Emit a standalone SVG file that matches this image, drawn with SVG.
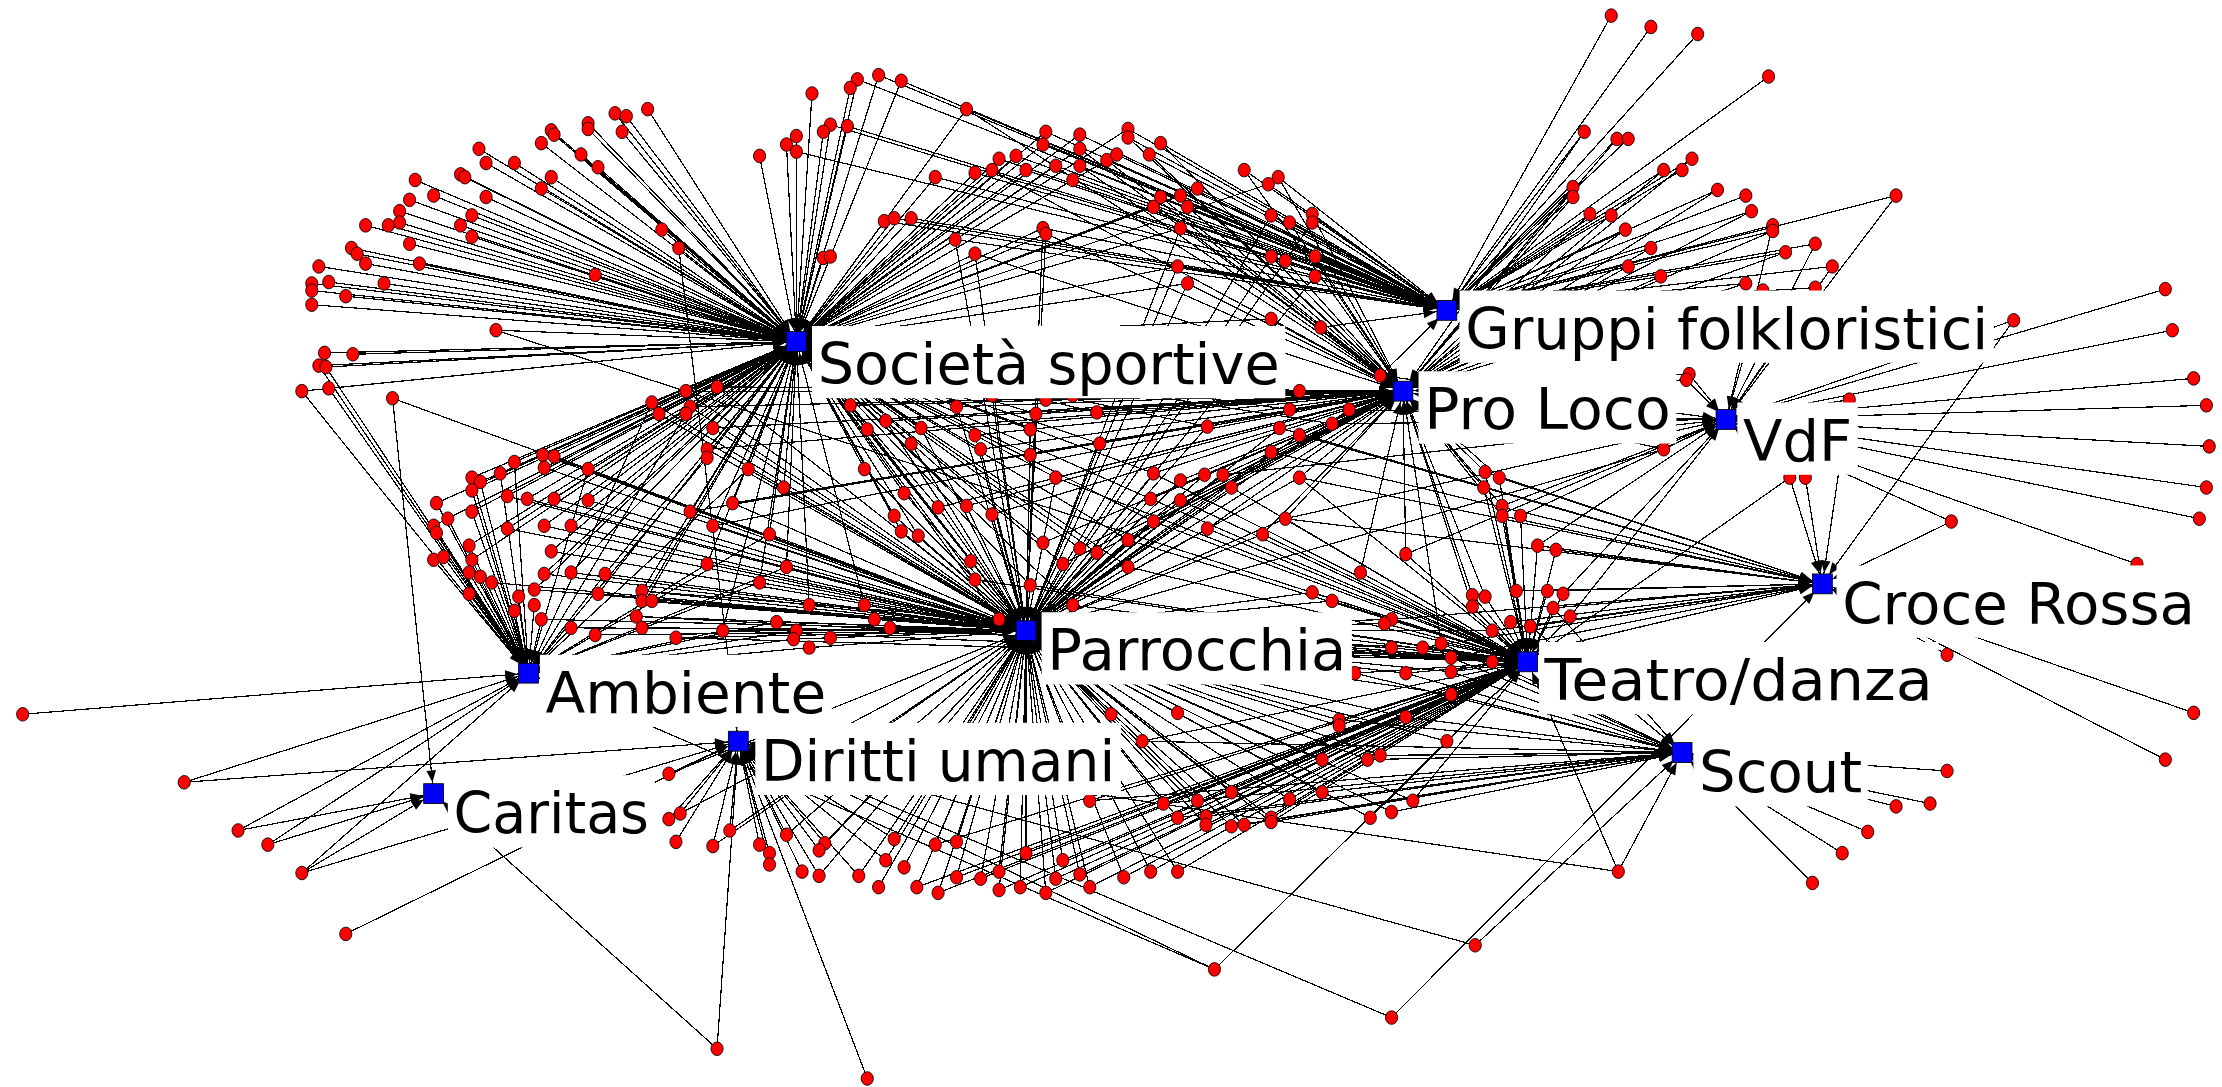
<svg xmlns="http://www.w3.org/2000/svg" width="2222" height="1087" viewBox="0 0 2222 1087">
<defs>
<marker id="ah" markerUnits="userSpaceOnUse" orient="auto-start-reverse" refX="8" refY="0" markerWidth="10" markerHeight="10" overflow="visible"><path d="M0 0L-8.5-3.4L-8.5 3.4z" fill="#000"/></marker>
<ellipse id="r" rx="4.3" ry="4.8" fill="#f00" stroke="#000" stroke-width=".6"/>
</defs>
<style>
#edges{shape-rendering:crispEdges}
#edges path{fill:none;stroke:#000;stroke-width:.85;stroke-linejoin:round;marker-end:url(#ah)}
#edges .w{marker-start:url(#ah)}
.sq{fill:#00f;stroke:#000;stroke-width:.6}
.lb{fill:#fff}
.hub text{font-family:"DejaVu Sans",Verdana,sans-serif;font-size:40px;fill:#000}
</style>
<rect width="2222" height="1087" fill="#fff"/>
<g transform="scale(1.41709 1.41721)">
<g id="edges">
<path d="M457 77L562 241"/><path d="M434 80L562 241"/><path d="M442 82L562 241"/><path d="M415 87L562 241"/><path d="M415 91L562 241"/><path d="M439 93L562 241"/><path d="M389 92L562 241"/><path d="M391 95L562 241"/><path d="M382 101L562 241"/><path d="M338 105L562 241"/><path d="M410 109L562 241"/><path d="M422 118L562 241"/><path d="M343 115L562 241"/><path d="M363 115L562 241"/><path d="M325 123L562 241"/><path d="M328 125L562 241"/><path d="M389 125L562 241"/><path d="M382 133L562 241"/><path d="M293 127L562 241"/><path d="M306 138L562 241"/><path d="M343 139L562 241"/><path d="M289 141L562 241"/><path d="M282 149L562 241"/><path d="M282 157L562 241"/><path d="M333 152L562 241"/><path d="M258 159L562 241"/><path d="M274 159L562 241"/><path d="M325 159L562 241"/><path d="M333 167L562 241"/><path d="M289 172L562 241"/><path d="M248 175L562 241"/><path d="M252 179L562 241"/><path d="M467 162L562 241"/><path class="w" d="M562 241L479 175L521 523"/><path d="M225 188L562 241"/><path d="M258 186L562 241"/><path d="M296 186L562 241"/><path d="M420 194L562 241"/><path d="M220 200L562 241"/><path d="M232 199L562 241"/><path d="M271 200L562 241"/><path d="M220 205L562 241"/><path d="M244 209L562 241"/><path d="M220 215L562 241"/><path class="w" d="M562 241L350 233L1078 467"/><path d="M229 249L562 241"/><path d="M249 250L562 241"/>
<path class="w" d="M562 241L620 53L1021 219"/><path class="w" d="M562 241L605 56L1021 219"/><path d="M600 62L562 241"/><path class="w" d="M562 241L636 57L1021 219"/><path d="M573 66L562 241"/><path class="w" d="M562 241L682 77L1021 219"/><path d="M682 77L990 276"/><path class="w" d="M562 241L586 88L1021 219"/><path d="M581 93L562 241"/><path class="w" d="M562 241L598 89L1021 219"/><path d="M562 96L562 241"/><path d="M555 102L562 241"/><path class="w" d="M562 241L562 107L1021 219"/><path d="M536 110L562 241"/><path class="w" d="M562 241L738 93L1021 219"/><path class="w" d="M562 241L762 95L1021 219"/><path class="w" d="M562 241L796 91L1021 219"/><path class="w" d="M1021 219L796 97L990 276"/><path class="w" d="M562 241L736 102L1021 219"/><path class="w" d="M562 241L762 105L990 276"/><path class="w" d="M1021 219L819 101L990 276"/><path class="w" d="M562 241L705 112L1021 219"/><path class="w" d="M562 241L717 110L1021 219"/><path class="w" d="M1021 219L781 113L990 276"/><path class="w" d="M562 241L788 109L1021 219"/><path class="w" d="M1021 219L811 109L990 276"/><path class="w" d="M562 241L688 122L1021 219"/><path class="w" d="M562 241L700 120L990 276"/><path class="w" d="M562 241L724 120L1021 219"/><path class="w" d="M562 241L745 117L1021 219"/><path class="w" d="M1021 219L762 117L990 276"/><path class="w" d="M562 241L757 127L1021 219"/><path class="w" d="M562 241L660 125L1021 219"/><path class="w" d="M1021 219L878 120L990 276"/><path class="w" d="M1021 219L902 125L990 276"/><path class="w" d="M562 241L895 130L1021 219"/><path class="w" d="M562 241L845 133L1021 219"/><path class="w" d="M1021 219L819 139L990 276"/><path class="w" d="M562 241L833 138L1021 219"/><path class="w" d="M562 241L814 146L990 276"/><path class="w" d="M1021 219L838 146L990 276"/><path class="w" d="M1021 219L897 152L724 445"/><path class="w" d="M1021 219L910 157L990 276"/><path class="w" d="M1021 219L926 151L990 276"/><path class="w" d="M1021 219L926 157L724 445"/><path class="w" d="M562 241L833 161L1021 219"/><path class="w" d="M562 241L624 156L1021 219"/><path class="w" d="M562 241L631 154L1021 219"/><path class="w" d="M562 241L643 154L1021 219"/><path class="w" d="M562 241L736 161L1021 219"/><path class="w" d="M562 241L738 165L990 276"/><path class="w" d="M562 241L674 169L1021 219"/><path class="w" d="M562 241L688 179L990 276"/><path d="M581 182L562 241"/><path d="M586 181L562 241"/><path class="w" d="M1021 219L897 181L724 445"/><path class="w" d="M1021 219L907 184L990 276"/><path class="w" d="M1021 219L928 181L990 276"/><path class="w" d="M562 241L831 188L1021 219"/><path class="w" d="M562 241L838 200L990 276"/><path class="w" d="M1021 219L928 195L724 445"/><path class="w" d="M562 241L897 225L990 276"/><path class="w" d="M1021 219L932 231L990 276"/>
<path d="M1137 11L1021 219"/><path d="M1165 19L1021 219"/><path d="M1198 24L1021 219"/><path d="M1248 54L1021 219"/><path class="w" d="M1021 219L1118 93L990 276"/><path class="w" d="M1021 219L1141 98L990 276"/><path d="M1149 98L1021 219"/><path class="w" d="M1021 219L1194 112L990 276"/><path class="w" d="M1021 219L1174 120L990 276"/><path d="M1187 120L1021 219"/><path class="w" d="M1021 219L1110 132L990 276"/><path class="w" d="M1021 219L1110 139L990 276"/><path class="w" d="M1021 219L1212 134L990 276"/><path d="M1232 138L1021 219"/><path class="w" d="M1021 219L1338 138L1218 296"/><path class="w" d="M1021 219L1236 149L990 276"/><path class="w" d="M1021 219L1122 151L990 276"/><path d="M1137 152L1021 219"/><path class="w" d="M1021 219L1147 162L990 276"/><path class="w" d="M1021 219L1251 159L1218 296"/><path class="w" d="M1021 219L1251 163L990 276"/><path class="w" d="M1021 219L1281 172L1218 296"/><path class="w" d="M1021 219L1260 178L990 276"/><path class="w" d="M1021 219L1165 175L990 276"/><path class="w" d="M1021 219L1293 188L1218 296"/><path class="w" d="M1021 219L1149 188L990 276"/><path class="w" d="M1021 219L1172 195L990 276"/><path class="w" d="M1021 219L1232 200L990 276"/><path class="w" d="M1021 219L1244 205L1218 296"/><path class="w" d="M1021 219L1281 203L1218 296"/><path class="w" d="M1218 296L1421 226L1286 412"/><path d="M1528 204L1218 296"/><path d="M1533 233L1218 296"/>
<path class="w" d="M562 241L225 258L373 475"/><path class="w" d="M562 241L230 259L373 475"/><path class="w" d="M562 241L213 276L373 475"/><path class="w" d="M562 241L232 274L373 475"/><path class="w" d="M306 560L277 281L724 445"/><path class="w" d="M562 241L484 276L724 445"/><path class="w" d="M562 241L506 273L724 445"/><path class="w" d="M562 241L460 284L724 445"/><path d="M460 284L373 475"/><path class="w" d="M562 241L465 292L724 445"/><path class="w" d="M562 241L487 287L724 445"/><path class="w" d="M562 241L484 292L373 475"/><path class="w" d="M562 241L503 302L724 445"/><path class="w" d="M562 241L499 317L724 445"/><path class="w" d="M562 241L499 323L373 475"/><path class="w" d="M562 241L383 321L724 445"/><path class="w" d="M562 241L391 322L724 445"/><path class="w" d="M562 241L363 326L373 475"/><path class="w" d="M562 241L384 330L724 445"/><path class="w" d="M562 241L415 331L724 445"/><path d="M415 331L373 475"/><path class="w" d="M562 241L353 334L373 475"/><path class="w" d="M562 241L333 337L373 475"/><path class="w" d="M562 241L339 340L373 475"/><path class="w" d="M562 241L333 346L373 475"/><path class="w" d="M562 241L358 350L724 445"/><path class="w" d="M562 241L372 352L724 445"/><path class="w" d="M562 241L391 352L724 445"/><path class="w" d="M562 241L415 353L724 445"/><path class="w" d="M562 241L308 355L373 475"/><path class="w" d="M562 241L333 361L373 475"/><path class="w" d="M562 241L316 366L373 475"/><path class="w" d="M562 241L306 371L373 475"/><path d="M308 376L373 475"/><path class="w" d="M562 241L358 373L724 445"/><path class="w" d="M562 241L384 371L724 445"/><path class="w" d="M562 241L403 371L724 445"/><path class="w" d="M562 241L487 361L724 445"/><path class="w" d="M562 241L503 371L724 445"/><path class="w" d="M562 241L517 355L724 445"/><path class="w" d="M562 241L331 385L373 475"/><path class="w" d="M562 241L389 389L724 445"/><path d="M306 395L373 475"/><path d="M313 393L373 475"/><path class="w" d="M562 241L333 395L373 475"/><path class="w" d="M562 241L499 398L724 445"/><path d="M499 398L373 475"/><path d="M331 404L373 475"/><path d="M339 407L373 475"/><path class="w" d="M373 475L347 411L724 445"/><path class="w" d="M562 241L384 405L724 445"/><path class="w" d="M562 241L403 404L724 445"/><path class="w" d="M562 241L427 405L724 445"/><path d="M427 405L373 475"/><path d="M331 419L373 475"/><path class="w" d="M562 241L377 416L724 445"/><path d="M366 421L373 475"/><path class="w" d="M562 241L422 419L724 445"/><path class="w" d="M562 241L453 417L724 445"/><path class="w" d="M562 241L453 424L724 445"/><path d="M460 424L724 445"/><path d="M377 427L373 475"/><path d="M363 431L373 475"/><path class="w" d="M373 475L382 437L724 445"/><path class="w" d="M562 241L449 435L724 445"/><path d="M453 443L724 445"/><path class="w" d="M373 475L403 443L724 445"/><path d="M420 448L724 445"/><path d="M477 450L724 445"/><path class="w" d="M562 241L510 445L724 445"/><path d="M510 445L373 475"/><path d="M16 504L373 475"/>
<path class="w" d="M562 241L600 286L724 445"/><path class="w" d="M562 241L675 287L724 445"/><path class="w" d="M562 241L738 282L990 276"/><path class="w" d="M562 241L757 279L990 276"/><path class="w" d="M562 241L700 279L724 445"/><path class="w" d="M562 241L731 292L724 445"/><path class="w" d="M562 241L774 291L990 276"/><path class="w" d="M562 241L625 297L724 445"/><path class="w" d="M562 241L612 303L724 445"/><path class="w" d="M562 241L650 302L724 445"/><path class="w" d="M562 241L688 307L724 445"/><path class="w" d="M562 241L727 303L724 445"/><path class="w" d="M562 241L643 313L724 445"/><path class="w" d="M562 241L692 317L724 445"/><path class="w" d="M562 241L727 321L724 445"/><path class="w" d="M562 241L776 313L724 445"/><path d="M776 313L990 276"/><path class="w" d="M562 241L852 301L990 276"/><path d="M852 301L724 445"/><path class="w" d="M562 241L917 276L990 276"/><path class="w" d="M562 241L910 289L990 276"/><path class="w" d="M990 276L903 302L724 445"/><path class="w" d="M990 276L917 307L724 445"/><path class="w" d="M990 276L952 289L724 445"/><path d="M952 289L1218 296"/><path class="w" d="M562 241L940 299L990 276"/><path d="M940 299L1218 296"/><path class="w" d="M1021 219L974 265L990 276"/><path d="M974 265L1218 296"/><path class="w" d="M990 276L897 319L724 445"/><path class="w" d="M562 241L528 331L724 445"/><path d="M528 331L373 475"/><path class="w" d="M562 241L610 331L724 445"/><path class="w" d="M562 241L553 344L724 445"/><path class="w" d="M562 241L745 337L724 445"/><path class="w" d="M562 241L814 334L724 445"/><path class="w" d="M990 276L833 339L724 445"/><path class="w" d="M990 276L850 335L724 445"/><path class="w" d="M990 276L863 335L724 445"/><path d="M863 335L1218 296"/><path class="w" d="M990 276L869 344L724 445"/><path class="w" d="M990 276L917 337L724 445"/><path class="w" d="M562 241L638 348L724 445"/><path class="w" d="M562 241L662 358L724 445"/><path class="w" d="M562 241L682 357L724 445"/><path class="w" d="M562 241L700 363L724 445"/><path class="w" d="M562 241L631 364L724 445"/><path class="w" d="M562 241L812 352L724 445"/><path class="w" d="M990 276L833 353L724 445"/><path class="w" d="M562 241L814 368L724 445"/><path class="w" d="M990 276L907 366L724 445"/><path d="M907 366L1218 296"/><path class="w" d="M990 276L852 373L724 445"/><path class="w" d="M990 276L891 377L724 445"/><path class="w" d="M562 241L543 377L724 445"/><path d="M543 377L373 475"/><path class="w" d="M562 241L636 375L724 445"/><path class="w" d="M562 241L648 378L724 445"/><path class="w" d="M562 241L736 383L724 445"/><path class="w" d="M562 241L796 381L724 445"/><path class="w" d="M562 241L762 387L724 445"/><path class="w" d="M562 241L774 390L724 445"/><path class="w" d="M562 241L685 396L724 445"/><path class="w" d="M562 241L750 398L724 445"/><path class="w" d="M562 241L796 400L724 445"/><path class="w" d="M990 276L992 391L1078 467"/><path d="M992 391L1218 296"/><path class="w" d="M990 276L960 404L1078 467"/><path class="w" d="M562 241L555 400L724 445"/><path d="M555 400L373 475"/><path class="w" d="M562 241L536 411L724 445"/><path d="M536 411L373 475"/><path class="w" d="M562 241L688 409L724 445"/><path class="w" d="M562 241L727 413L724 445"/><path class="w" d="M724 445L926 418L1078 467"/><path class="w" d="M724 445L940 424L1078 467"/><path class="w" d="M562 241L571 427L724 445"/><path class="w" d="M562 241L610 427L724 445"/><path class="w" d="M562 241L757 427L724 445"/><path class="w" d="M373 475L548 439L724 445"/><path class="w" d="M373 475L562 445L724 445"/><path class="w" d="M373 475L560 451L724 445"/><path d="M586 450L724 445"/><path class="w" d="M373 475L571 457L724 445"/><path d="M617 437L724 445"/><path d="M628 443L724 445"/><path class="w" d="M562 241L705 437L724 445"/><path class="w" d="M724 445L982 437L1078 467"/><path d="M982 437L1286 412"/><path class="w" d="M724 445L977 440L1078 467"/><path class="w" d="M724 445L982 457L1078 467"/><path class="w" d="M724 445L1004 457L1078 467"/><path d="M1004 457L1286 412"/><path class="w" d="M990 276L1017 454L1078 467"/><path class="w" d="M724 445L1024 464L1078 467"/><path class="w" d="M724 445L1024 474L1078 467"/><path class="w" d="M724 445L992 475L1078 467"/><path class="w" d="M724 445L956 475L1078 467"/><path d="M956 475L1187 531"/><path class="w" d="M724 445L1024 490L1078 467"/><path d="M1024 490L1187 531"/><path d="M784 504L724 445"/><path d="M831 503L724 445"/><path class="w" d="M724 445L945 508L1078 467"/><path d="M945 508L1187 531"/><path class="w" d="M724 445L992 506L1078 467"/><path d="M992 506L1187 531"/><path class="w" d="M990 276L1039 420L1078 467"/><path class="w" d="M990 276L1039 428L1078 467"/>
<path class="w" d="M990 276L1192 264L1218 296"/><path class="w" d="M990 276L1190 268L1218 296"/><path class="w" d="M1218 296L1305 282L1286 412"/><path d="M1548 267L1218 296"/><path d="M1557 286L1218 296"/><path d="M1559 315L1218 296"/><path d="M1557 344L1218 296"/><path d="M1552 366L1218 296"/><path class="w" d="M990 276L1174 317L1218 296"/><path d="M1174 317L724 445"/><path class="w" d="M1218 296L1263 337L1286 412"/><path d="M1263 337L1078 467"/><path class="w" d="M1218 296L1274 337L1286 412"/><path class="w" d="M1218 296L1377 368L1286 412"/><path d="M1508 398L1218 296"/><path class="w" d="M990 276L1048 333L1078 467"/><path d="M1048 333L1286 412"/><path class="w" d="M990 276L1058 337L1078 467"/><path class="w" d="M990 276L1047 344L1078 467"/><path class="w" d="M990 276L1060 357L1078 467"/><path d="M1060 357L1218 296"/><path class="w" d="M990 276L1060 364L1078 467"/><path class="w" d="M1218 296L1073 364L1078 467"/><path class="w" d="M1218 296L1085 385L1078 467"/><path d="M1085 385L1286 412"/><path class="w" d="M1286 412L1098 388L1078 467"/><path class="w" d="M990 276L1048 421L1078 467"/><path class="w" d="M1286 412L1070 417L1078 467"/><path class="w" d="M1286 412L1092 417L1078 467"/><path class="w" d="M1218 296L1103 419L1078 467"/><path class="w" d="M1286 412L1096 429L1078 467"/><path class="w" d="M1218 296L1108 435L1078 467"/><path class="w" d="M724 445L1053 445L1078 467"/><path class="w" d="M1286 412L1066 439L1078 467"/><path class="w" d="M1286 412L1080 442L1078 467"/><path class="w" d="M724 445L1053 467L1078 467"/><path d="M1374 462L1286 412"/><path d="M1548 503L1286 412"/>
<path class="w" d="M373 475L130 552L521 523"/><path class="w" d="M373 475L168 586L306 560"/><path class="w" d="M373 475L189 596L306 560"/><path class="w" d="M373 475L213 616L306 560"/><path d="M213 616L521 523"/><path d="M244 659L521 523"/><path class="w" d="M306 560L506 740L521 523"/><path class="w" d="M724 445L472 546L521 523"/><path d="M472 578L521 523"/><path class="w" d="M724 445L480 574L521 523"/><path d="M477 594L521 523"/><path class="w" d="M724 445L503 597L521 523"/><path class="w" d="M724 445L515 586L521 523"/>
<path d="M806 523L724 445"/><path class="w" d="M724 445L945 512L1078 467"/><path class="w" d="M724 445L1021 523L1078 467"/><path class="w" d="M724 445L933 536L1078 467"/><path class="w" d="M724 445L965 536L1187 531"/><path class="w" d="M724 445L974 533L1187 531"/><path d="M769 565L724 445"/><path d="M821 567L724 445"/><path class="w" d="M724 445L845 565L1078 467"/><path d="M869 559L724 445"/><path class="w" d="M724 445L910 564L1078 467"/><path class="w" d="M724 445L933 559L1187 531"/><path class="w" d="M724 445L997 565L1078 467"/><path d="M831 577L724 445"/><path d="M851 576L724 445"/><path class="w" d="M724 445L851 582L1078 467"/><path d="M869 583L724 445"/><path class="w" d="M724 445L878 582L1187 531"/><path class="w" d="M724 445L897 577L1078 467"/><path d="M897 580L724 445"/><path class="w" d="M724 445L967 577L1078 467"/><path class="w" d="M724 445L982 573L1187 531"/><path class="w" d="M521 523L555 589L724 445"/><path d="M536 596L521 523"/><path d="M543 602L521 523"/><path d="M543 610L521 523"/><path class="w" d="M521 523L582 595L724 445"/><path class="w" d="M521 523L578 600L724 445"/><path d="M566 615L521 523"/><path class="w" d="M521 523L578 618L724 445"/><path class="w" d="M521 523L631 592L724 445"/><path d="M660 596L724 445"/><path d="M675 594L724 445"/><path d="M724 602L724 445"/><path class="w" d="M521 523L625 607L724 445"/><path d="M638 612L724 445"/><path class="w" d="M521 523L606 618L724 445"/><path d="M620 626L724 445"/><path d="M647 626L724 445"/><path d="M662 630L724 445"/><path d="M675 619L724 445"/><path d="M692 620L724 445"/><path d="M705 615L724 445"/><path d="M705 628L724 445"/><path d="M720 626L724 445"/><path d="M738 630L724 445"/><path d="M745 620L724 445"/><path d="M750 607L724 445"/><path d="M762 617L724 445"/><path d="M769 626L724 445"/><path d="M793 619L724 445"/><path d="M812 615L724 445"/><path d="M831 615L724 445"/><path class="w" d="M521 523L857 684L1078 467"/><path d="M857 684L373 475"/><path class="w" d="M521 523L982 718L1286 412"/><path d="M612 761L521 523"/><path class="w" d="M521 523L1041 667L1187 531"/>
<path class="w" d="M521 523L1142 615L1078 467"/><path d="M1142 615L1187 531"/><path d="M1279 623L1187 531"/><path d="M1300 602L1187 531"/><path d="M1318 587L1187 531"/><path d="M1338 569L1187 531"/><path d="M1362 567L1187 531"/><path d="M1374 544L1187 531"/><path d="M1528 536L1286 412"/>
<path d="M769 565L1078 467"/><path d="M821 567L1078 467"/><path d="M831 577L1078 467"/><path d="M851 576L1078 467"/><path d="M869 559L1078 467"/><path d="M869 583L1078 467"/><path d="M897 580L1078 467"/><path d="M806 523L1078 467"/><path d="M831 615L1078 467"/><path d="M812 615L1078 467"/><path d="M793 619L1078 467"/><path d="M769 626L1078 467"/><path d="M762 617L1078 467"/><path d="M750 607L1078 467"/><path d="M745 620L1078 467"/><path d="M738 630L1078 467"/><path d="M720 626L1078 467"/><path d="M705 628L1078 467"/><path d="M692 620L1078 467"/><path d="M675 619L1078 467"/><path d="M724 602L1078 467"/><path d="M660 596L1078 467"/><path d="M662 630L1078 467"/><path d="M647 626L1078 467"/>
<path d="M831 577L1187 531"/><path d="M851 576L1187 531"/><path d="M869 583L1187 531"/><path d="M897 580L1187 531"/><path d="M821 567L1187 531"/><path d="M769 565L1187 531"/><path d="M806 523L1187 531"/>
<path d="M600 286L990 276"/><path d="M675 287L990 276"/><path d="M700 279L990 276"/><path d="M731 292L990 276"/><path d="M625 297L990 276"/><path d="M650 302L990 276"/><path d="M688 307L990 276"/><path d="M727 303L990 276"/><path d="M692 317L990 276"/><path d="M727 321L990 276"/><path d="M745 337L990 276"/><path d="M814 334L990 276"/><path d="M812 352L990 276"/><path d="M814 368L990 276"/><path d="M796 381L990 276"/><path d="M796 400L990 276"/><path d="M774 390L990 276"/><path d="M750 398L990 276"/><path d="M736 383L990 276"/><path d="M762 387L990 276"/><path d="M682 357L990 276"/><path d="M700 363L990 276"/><path d="M662 358L990 276"/>
<path d="M745 337L1078 467"/><path d="M814 334L1078 467"/><path d="M812 352L1078 467"/><path d="M814 368L1078 467"/><path d="M796 381L1078 467"/><path d="M796 400L1078 467"/><path d="M757 427L1078 467"/><path d="M727 413L1078 467"/><path d="M688 409L1078 467"/><path d="M852 373L1078 467"/><path d="M891 377L1078 467"/><path d="M907 366L1078 467"/><path d="M833 353L1078 467"/><path d="M869 344L1078 467"/><path d="M917 337L1078 467"/>
<path d="M484 276L990 276"/><path d="M506 273L990 276"/><path d="M487 287L990 276"/><path d="M503 302L990 276"/><path d="M499 317L990 276"/><path d="M503 371L990 276"/><path d="M517 355L990 276"/><path d="M487 361L990 276"/>
<path d="M453 417L1078 467"/><path d="M453 424L1078 467"/><path d="M449 435L1078 467"/><path d="M477 450L1078 467"/><path d="M510 445L1078 467"/>
<path d="M903 302L1286 412"/><path d="M917 307L1286 412"/><path d="M897 319L1286 412"/><path d="M917 337L1286 412"/><path d="M907 366L1286 412"/><path d="M1058 337L1286 412"/><path d="M1047 344L1286 412"/><path d="M1060 364L1286 412"/><path d="M1053 445L1286 412"/><path d="M1053 467L1286 412"/><path d="M1024 464L1286 412"/><path d="M1024 474L1286 412"/>
<path d="M1024 464L1187 531"/><path d="M1024 474L1187 531"/><path d="M992 475L1187 531"/><path d="M1017 454L1187 531"/><path d="M1053 467L1187 531"/><path d="M1080 442L1187 531"/><path d="M1096 429L1187 531"/>
<path d="M738 165L724 445"/><path d="M736 161L724 445"/><path d="M831 188L724 445"/><path d="M838 200L724 445"/><path d="M833 161L724 445"/><path d="M688 179L724 445"/><path d="M674 169L724 445"/>
</g>
<g id="actors">
<use href="#r" x="457" y="77"/><use href="#r" x="434" y="80"/><use href="#r" x="442" y="82"/><use href="#r" x="415" y="87"/><use href="#r" x="415" y="91"/><use href="#r" x="439" y="93"/><use href="#r" x="389" y="92"/><use href="#r" x="391" y="95"/><use href="#r" x="382" y="101"/><use href="#r" x="338" y="105"/><use href="#r" x="410" y="109"/><use href="#r" x="422" y="118"/><use href="#r" x="343" y="115"/><use href="#r" x="363" y="115"/><use href="#r" x="325" y="123"/><use href="#r" x="328" y="125"/><use href="#r" x="389" y="125"/><use href="#r" x="382" y="133"/><use href="#r" x="293" y="127"/><use href="#r" x="306" y="138"/><use href="#r" x="343" y="139"/><use href="#r" x="289" y="141"/><use href="#r" x="282" y="149"/><use href="#r" x="282" y="157"/><use href="#r" x="333" y="152"/><use href="#r" x="258" y="159"/><use href="#r" x="274" y="159"/><use href="#r" x="325" y="159"/><use href="#r" x="333" y="167"/><use href="#r" x="289" y="172"/><use href="#r" x="248" y="175"/><use href="#r" x="252" y="179"/><use href="#r" x="467" y="162"/><use href="#r" x="479" y="175"/><use href="#r" x="225" y="188"/><use href="#r" x="258" y="186"/><use href="#r" x="296" y="186"/><use href="#r" x="420" y="194"/><use href="#r" x="220" y="200"/><use href="#r" x="232" y="199"/><use href="#r" x="271" y="200"/><use href="#r" x="220" y="205"/><use href="#r" x="244" y="209"/><use href="#r" x="220" y="215"/><use href="#r" x="350" y="233"/><use href="#r" x="229" y="249"/><use href="#r" x="249" y="250"/>
<use href="#r" x="620" y="53"/><use href="#r" x="605" y="56"/><use href="#r" x="600" y="62"/><use href="#r" x="636" y="57"/><use href="#r" x="573" y="66"/><use href="#r" x="682" y="77"/><use href="#r" x="586" y="88"/><use href="#r" x="581" y="93"/><use href="#r" x="598" y="89"/><use href="#r" x="562" y="96"/><use href="#r" x="555" y="102"/><use href="#r" x="562" y="107"/><use href="#r" x="536" y="110"/><use href="#r" x="738" y="93"/><use href="#r" x="762" y="95"/><use href="#r" x="796" y="91"/><use href="#r" x="796" y="97"/><use href="#r" x="736" y="102"/><use href="#r" x="762" y="105"/><use href="#r" x="819" y="101"/><use href="#r" x="705" y="112"/><use href="#r" x="717" y="110"/><use href="#r" x="781" y="113"/><use href="#r" x="788" y="109"/><use href="#r" x="811" y="109"/><use href="#r" x="688" y="122"/><use href="#r" x="700" y="120"/><use href="#r" x="724" y="120"/><use href="#r" x="745" y="117"/><use href="#r" x="762" y="117"/><use href="#r" x="757" y="127"/><use href="#r" x="660" y="125"/><use href="#r" x="878" y="120"/><use href="#r" x="902" y="125"/><use href="#r" x="895" y="130"/><use href="#r" x="845" y="133"/><use href="#r" x="819" y="139"/><use href="#r" x="833" y="138"/><use href="#r" x="814" y="146"/><use href="#r" x="838" y="146"/><use href="#r" x="897" y="152"/><use href="#r" x="910" y="157"/><use href="#r" x="926" y="151"/><use href="#r" x="926" y="157"/><use href="#r" x="833" y="161"/><use href="#r" x="624" y="156"/><use href="#r" x="631" y="154"/><use href="#r" x="643" y="154"/><use href="#r" x="736" y="161"/><use href="#r" x="738" y="165"/><use href="#r" x="674" y="169"/><use href="#r" x="688" y="179"/><use href="#r" x="581" y="182"/><use href="#r" x="586" y="181"/><use href="#r" x="897" y="181"/><use href="#r" x="907" y="184"/><use href="#r" x="928" y="181"/><use href="#r" x="831" y="188"/><use href="#r" x="838" y="200"/><use href="#r" x="928" y="195"/><use href="#r" x="897" y="225"/><use href="#r" x="932" y="231"/>
<use href="#r" x="1137" y="11"/><use href="#r" x="1165" y="19"/><use href="#r" x="1198" y="24"/><use href="#r" x="1248" y="54"/><use href="#r" x="1118" y="93"/><use href="#r" x="1141" y="98"/><use href="#r" x="1149" y="98"/><use href="#r" x="1194" y="112"/><use href="#r" x="1174" y="120"/><use href="#r" x="1187" y="120"/><use href="#r" x="1110" y="132"/><use href="#r" x="1110" y="139"/><use href="#r" x="1212" y="134"/><use href="#r" x="1232" y="138"/><use href="#r" x="1338" y="138"/><use href="#r" x="1236" y="149"/><use href="#r" x="1122" y="151"/><use href="#r" x="1137" y="152"/><use href="#r" x="1147" y="162"/><use href="#r" x="1251" y="159"/><use href="#r" x="1251" y="163"/><use href="#r" x="1281" y="172"/><use href="#r" x="1260" y="178"/><use href="#r" x="1165" y="175"/><use href="#r" x="1293" y="188"/><use href="#r" x="1149" y="188"/><use href="#r" x="1172" y="195"/><use href="#r" x="1232" y="200"/><use href="#r" x="1244" y="205"/><use href="#r" x="1281" y="203"/><use href="#r" x="1421" y="226"/><use href="#r" x="1528" y="204"/><use href="#r" x="1533" y="233"/>
<use href="#r" x="225" y="258"/><use href="#r" x="230" y="259"/><use href="#r" x="213" y="276"/><use href="#r" x="232" y="274"/><use href="#r" x="277" y="281"/><use href="#r" x="484" y="276"/><use href="#r" x="506" y="273"/><use href="#r" x="460" y="284"/><use href="#r" x="465" y="292"/><use href="#r" x="487" y="287"/><use href="#r" x="484" y="292"/><use href="#r" x="503" y="302"/><use href="#r" x="499" y="317"/><use href="#r" x="499" y="323"/><use href="#r" x="383" y="321"/><use href="#r" x="391" y="322"/><use href="#r" x="363" y="326"/><use href="#r" x="384" y="330"/><use href="#r" x="415" y="331"/><use href="#r" x="353" y="334"/><use href="#r" x="333" y="337"/><use href="#r" x="339" y="340"/><use href="#r" x="333" y="346"/><use href="#r" x="358" y="350"/><use href="#r" x="372" y="352"/><use href="#r" x="391" y="352"/><use href="#r" x="415" y="353"/><use href="#r" x="308" y="355"/><use href="#r" x="333" y="361"/><use href="#r" x="316" y="366"/><use href="#r" x="306" y="371"/><use href="#r" x="308" y="376"/><use href="#r" x="358" y="373"/><use href="#r" x="384" y="371"/><use href="#r" x="403" y="371"/><use href="#r" x="487" y="361"/><use href="#r" x="503" y="371"/><use href="#r" x="517" y="355"/><use href="#r" x="331" y="385"/><use href="#r" x="389" y="389"/><use href="#r" x="306" y="395"/><use href="#r" x="313" y="393"/><use href="#r" x="333" y="395"/><use href="#r" x="499" y="398"/><use href="#r" x="331" y="404"/><use href="#r" x="339" y="407"/><use href="#r" x="347" y="411"/><use href="#r" x="384" y="405"/><use href="#r" x="403" y="404"/><use href="#r" x="427" y="405"/><use href="#r" x="331" y="419"/><use href="#r" x="377" y="416"/><use href="#r" x="366" y="421"/><use href="#r" x="422" y="419"/><use href="#r" x="453" y="417"/><use href="#r" x="453" y="424"/><use href="#r" x="460" y="424"/><use href="#r" x="377" y="427"/><use href="#r" x="363" y="431"/><use href="#r" x="382" y="437"/><use href="#r" x="449" y="435"/><use href="#r" x="453" y="443"/><use href="#r" x="403" y="443"/><use href="#r" x="420" y="448"/><use href="#r" x="477" y="450"/><use href="#r" x="510" y="445"/><use href="#r" x="16" y="504"/>
<use href="#r" x="600" y="286"/><use href="#r" x="675" y="287"/><use href="#r" x="738" y="282"/><use href="#r" x="757" y="279"/><use href="#r" x="700" y="279"/><use href="#r" x="731" y="292"/><use href="#r" x="774" y="291"/><use href="#r" x="625" y="297"/><use href="#r" x="612" y="303"/><use href="#r" x="650" y="302"/><use href="#r" x="688" y="307"/><use href="#r" x="727" y="303"/><use href="#r" x="643" y="313"/><use href="#r" x="692" y="317"/><use href="#r" x="727" y="321"/><use href="#r" x="776" y="313"/><use href="#r" x="852" y="301"/><use href="#r" x="917" y="276"/><use href="#r" x="910" y="289"/><use href="#r" x="903" y="302"/><use href="#r" x="917" y="307"/><use href="#r" x="952" y="289"/><use href="#r" x="940" y="299"/><use href="#r" x="974" y="265"/><use href="#r" x="897" y="319"/><use href="#r" x="528" y="331"/><use href="#r" x="610" y="331"/><use href="#r" x="553" y="344"/><use href="#r" x="745" y="337"/><use href="#r" x="814" y="334"/><use href="#r" x="833" y="339"/><use href="#r" x="850" y="335"/><use href="#r" x="863" y="335"/><use href="#r" x="869" y="344"/><use href="#r" x="917" y="337"/><use href="#r" x="638" y="348"/><use href="#r" x="662" y="358"/><use href="#r" x="682" y="357"/><use href="#r" x="700" y="363"/><use href="#r" x="631" y="364"/><use href="#r" x="812" y="352"/><use href="#r" x="833" y="353"/><use href="#r" x="814" y="368"/><use href="#r" x="907" y="366"/><use href="#r" x="852" y="373"/><use href="#r" x="891" y="377"/><use href="#r" x="543" y="377"/><use href="#r" x="636" y="375"/><use href="#r" x="648" y="378"/><use href="#r" x="736" y="383"/><use href="#r" x="796" y="381"/><use href="#r" x="762" y="387"/><use href="#r" x="774" y="390"/><use href="#r" x="685" y="396"/><use href="#r" x="750" y="398"/><use href="#r" x="796" y="400"/><use href="#r" x="992" y="391"/><use href="#r" x="960" y="404"/><use href="#r" x="555" y="400"/><use href="#r" x="536" y="411"/><use href="#r" x="688" y="409"/><use href="#r" x="727" y="413"/><use href="#r" x="926" y="418"/><use href="#r" x="940" y="424"/><use href="#r" x="571" y="427"/><use href="#r" x="610" y="427"/><use href="#r" x="757" y="427"/><use href="#r" x="548" y="439"/><use href="#r" x="562" y="445"/><use href="#r" x="560" y="451"/><use href="#r" x="586" y="450"/><use href="#r" x="571" y="457"/><use href="#r" x="617" y="437"/><use href="#r" x="628" y="443"/><use href="#r" x="705" y="437"/><use href="#r" x="982" y="437"/><use href="#r" x="977" y="440"/><use href="#r" x="982" y="457"/><use href="#r" x="1004" y="457"/><use href="#r" x="1017" y="454"/><use href="#r" x="1024" y="464"/><use href="#r" x="1024" y="474"/><use href="#r" x="992" y="475"/><use href="#r" x="956" y="475"/><use href="#r" x="1024" y="490"/><use href="#r" x="784" y="504"/><use href="#r" x="831" y="503"/><use href="#r" x="945" y="508"/><use href="#r" x="992" y="506"/><use href="#r" x="1039" y="420"/><use href="#r" x="1039" y="428"/>
<use href="#r" x="1192" y="264"/><use href="#r" x="1190" y="268"/><use href="#r" x="1305" y="282"/><use href="#r" x="1548" y="267"/><use href="#r" x="1557" y="286"/><use href="#r" x="1559" y="315"/><use href="#r" x="1557" y="344"/><use href="#r" x="1552" y="366"/><use href="#r" x="1174" y="317"/><use href="#r" x="1263" y="337"/><use href="#r" x="1274" y="337"/><use href="#r" x="1377" y="368"/><use href="#r" x="1508" y="398"/><use href="#r" x="1048" y="333"/><use href="#r" x="1058" y="337"/><use href="#r" x="1047" y="344"/><use href="#r" x="1060" y="357"/><use href="#r" x="1060" y="364"/><use href="#r" x="1073" y="364"/><use href="#r" x="1085" y="385"/><use href="#r" x="1098" y="388"/><use href="#r" x="1048" y="421"/><use href="#r" x="1070" y="417"/><use href="#r" x="1092" y="417"/><use href="#r" x="1103" y="419"/><use href="#r" x="1096" y="429"/><use href="#r" x="1108" y="435"/><use href="#r" x="1053" y="445"/><use href="#r" x="1066" y="439"/><use href="#r" x="1080" y="442"/><use href="#r" x="1053" y="467"/><use href="#r" x="1374" y="462"/><use href="#r" x="1548" y="503"/>
<use href="#r" x="130" y="552"/><use href="#r" x="168" y="586"/><use href="#r" x="189" y="596"/><use href="#r" x="213" y="616"/><use href="#r" x="244" y="659"/><use href="#r" x="506" y="740"/><use href="#r" x="472" y="546"/><use href="#r" x="472" y="578"/><use href="#r" x="480" y="574"/><use href="#r" x="477" y="594"/><use href="#r" x="503" y="597"/><use href="#r" x="515" y="586"/>
<use href="#r" x="806" y="523"/><use href="#r" x="945" y="512"/><use href="#r" x="1021" y="523"/><use href="#r" x="933" y="536"/><use href="#r" x="965" y="536"/><use href="#r" x="974" y="533"/><use href="#r" x="769" y="565"/><use href="#r" x="821" y="567"/><use href="#r" x="845" y="565"/><use href="#r" x="869" y="559"/><use href="#r" x="910" y="564"/><use href="#r" x="933" y="559"/><use href="#r" x="997" y="565"/><use href="#r" x="831" y="577"/><use href="#r" x="851" y="576"/><use href="#r" x="851" y="582"/><use href="#r" x="869" y="583"/><use href="#r" x="878" y="582"/><use href="#r" x="897" y="577"/><use href="#r" x="897" y="580"/><use href="#r" x="967" y="577"/><use href="#r" x="982" y="573"/><use href="#r" x="555" y="589"/><use href="#r" x="536" y="596"/><use href="#r" x="543" y="602"/><use href="#r" x="543" y="610"/><use href="#r" x="582" y="595"/><use href="#r" x="578" y="600"/><use href="#r" x="566" y="615"/><use href="#r" x="578" y="618"/><use href="#r" x="631" y="592"/><use href="#r" x="660" y="596"/><use href="#r" x="675" y="594"/><use href="#r" x="724" y="602"/><use href="#r" x="625" y="607"/><use href="#r" x="638" y="612"/><use href="#r" x="606" y="618"/><use href="#r" x="620" y="626"/><use href="#r" x="647" y="626"/><use href="#r" x="662" y="630"/><use href="#r" x="675" y="619"/><use href="#r" x="692" y="620"/><use href="#r" x="705" y="615"/><use href="#r" x="705" y="628"/><use href="#r" x="720" y="626"/><use href="#r" x="738" y="630"/><use href="#r" x="745" y="620"/><use href="#r" x="750" y="607"/><use href="#r" x="762" y="617"/><use href="#r" x="769" y="626"/><use href="#r" x="793" y="619"/><use href="#r" x="812" y="615"/><use href="#r" x="831" y="615"/><use href="#r" x="857" y="684"/><use href="#r" x="982" y="718"/><use href="#r" x="612" y="761"/><use href="#r" x="1041" y="667"/>
<use href="#r" x="1142" y="615"/><use href="#r" x="1279" y="623"/><use href="#r" x="1300" y="602"/><use href="#r" x="1318" y="587"/><use href="#r" x="1338" y="569"/><use href="#r" x="1362" y="567"/><use href="#r" x="1374" y="544"/><use href="#r" x="1528" y="536"/>
</g>
<g id="societa-sportive" class="hub"><rect class="sq" x="555" y="234" width="14" height="14"/><rect class="lb" x="573" y="230" width="334" height="51"/><text x="577" y="271" textLength="326" lengthAdjust="spacingAndGlyphs">Società sportive</text></g>
<g id="gruppi-folkloristici" class="hub"><rect class="sq" x="1014" y="212" width="14" height="14"/><rect class="lb" x="1030" y="205" width="377" height="51"/><text x="1034" y="246" textLength="369" lengthAdjust="spacingAndGlyphs">Gruppi folkloristici</text></g>
<g id="pro-loco" class="hub"><rect class="sq" x="983" y="269" width="14" height="14"/><rect class="lb" x="1001" y="262" width="182" height="51"/><text x="1005" y="303" textLength="174" lengthAdjust="spacingAndGlyphs">Pro Loco</text></g>
<g id="vdf" class="hub"><rect class="sq" x="1211" y="289" width="14" height="14"/><rect class="lb" x="1226" y="284" width="85" height="51"/><text x="1230" y="325" textLength="77" lengthAdjust="spacingAndGlyphs">VdF</text></g>
<g id="croce-rossa" class="hub"><rect class="sq" x="1279" y="405" width="14" height="14"/><rect class="lb" x="1296" y="399" width="257" height="51"/><text x="1300" y="440" textLength="249" lengthAdjust="spacingAndGlyphs">Croce Rossa</text></g>
<g id="teatro-danza" class="hub"><rect class="sq" x="1071" y="460" width="14" height="14"/><rect class="lb" x="1086" y="453" width="282" height="51"/><text x="1090" y="494" textLength="274" lengthAdjust="spacingAndGlyphs">Teatro/danza</text></g>
<g id="parrocchia" class="hub"><rect class="sq" x="717" y="438" width="14" height="14"/><rect class="lb" x="735" y="432" width="219" height="51"/><text x="739" y="473" textLength="211" lengthAdjust="spacingAndGlyphs">Parrocchia</text></g>
<g id="ambiente" class="hub"><rect class="sq" x="366" y="468" width="14" height="14"/><rect class="lb" x="381" y="462" width="206" height="51"/><text x="385" y="503" textLength="198" lengthAdjust="spacingAndGlyphs">Ambiente</text></g>
<g id="diritti-umani" class="hub"><rect class="sq" x="514" y="516" width="14" height="14"/><rect class="lb" x="533" y="510" width="258" height="51"/><text x="537" y="551" textLength="250" lengthAdjust="spacingAndGlyphs">Diritti umani</text></g>
<g id="caritas" class="hub"><rect class="sq" x="299" y="553" width="14" height="14"/><rect class="lb" x="316" y="547" width="146" height="51"/><text x="320" y="588" textLength="138" lengthAdjust="spacingAndGlyphs">Caritas</text></g>
<g id="scout" class="hub"><rect class="sq" x="1180" y="524" width="14" height="14"/><rect class="lb" x="1195" y="518" width="123" height="51"/><text x="1199" y="559" textLength="115" lengthAdjust="spacingAndGlyphs">Scout</text></g>
</g>
</svg>
